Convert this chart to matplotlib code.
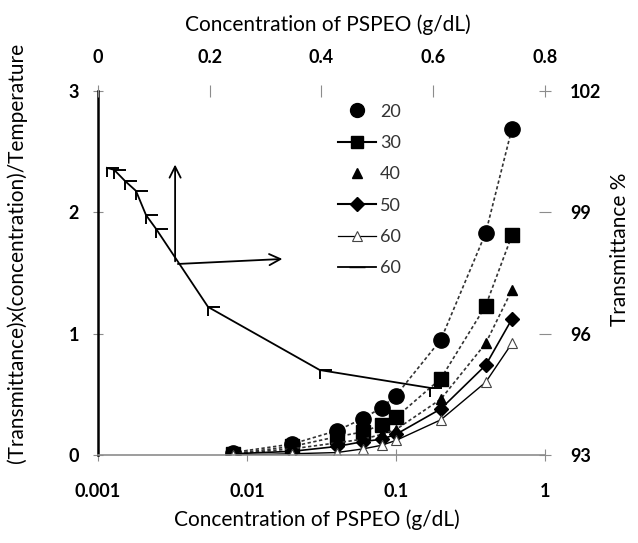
import matplotlib
matplotlib.use('Agg')
import matplotlib.pyplot as plt
from matplotlib.path import Path
from matplotlib.lines import Line2D

plt.rcParams['font.family'] = ['Lato', 'DejaVu Sans']

# bottom/left axes: concentration (log) vs (T)x(c)/Temperature
conc = [0.008, 0.02, 0.04, 0.06, 0.08, 0.1, 0.2, 0.4, 0.6]
t20 = [0.02, 0.09, 0.20, 0.30, 0.39, 0.49, 0.95, 1.83, 2.69]
t30 = [0.01, 0.07, 0.15, 0.19, 0.25, 0.31, 0.63, 1.23, 1.81]
t40 = [0.01, 0.05, 0.10, 0.13, 0.17, 0.21, 0.46, 0.92, 1.36]
t50 = [0.01, 0.03, 0.07, 0.11, 0.13, 0.17, 0.38, 0.74, 1.12]
t60 = [0.00, 0.01, 0.02, 0.05, 0.08, 0.12, 0.29, 0.60, 0.92]

# top/right axes: concentration (linear) vs transmittance % at 60
trans_conc = [0.016, 0.029, 0.048, 0.068, 0.086, 0.104, 0.197, 0.397, 0.594]
trans_pct = [100.10, 100.05, 99.78, 99.53, 98.93, 98.59, 96.66, 95.10, 94.66]

legend_labels = ['20', '30', '40', '50', '60', '60']

gray = '#8c8c8c'
gamma = Path([(0, -1), (0, 0), (1.3, 0)], [Path.MOVETO, Path.LINETO, Path.LINETO])

fig = plt.figure(figsize=(6.38, 5.43), dpi=100)
ax = fig.add_axes([0.1536, 0.1621, 0.7006, 0.6703])
ax.set_xscale('log')
ax.set_xlim(0.001, 1)
ax.set_ylim(0, 3)

ax.plot(conc, t20, ls=(0, (2, 1.5)), color='#333333', lw=1.2, marker='o', ms=11, mfc='k', mec='k')
ax.plot(conc, t30, ls=(0, (2, 1.5)), color='#333333', lw=1.2, marker='s', ms=10, mfc='k', mec='k')
ax.plot(conc, t40, ls=(0, (2, 1.5)), color='#333333', lw=1.2, marker='^', ms=7, mfc='k', mec='k')
ax.plot(conc, t50, ls='-', color='k', lw=1.2, marker='D', ms=7, mfc='k', mec='k')
ax.plot(conc, t60, ls='-', color='k', lw=1.0, marker='^', ms=7, mfc='white', mec='#444444', mew=0.8)

ax.set_xticks([0.001, 0.01, 0.1, 1])
ax.set_xticklabels(['0.001', '0.01', '0.1', '1'])
ax.set_yticks([0, 1, 2, 3])
ax.minorticks_off()
ax.tick_params(axis='x', direction='inout', length=8, color=gray, pad=16, labelsize=13)
ax.tick_params(axis='y', direction='inout', length=7, color=gray, pad=10, labelsize=13)
for lab in ax.get_xticklabels() + ax.get_yticklabels():
    lab.set_fontweight('bold')
ax.spines['left'].set_color('k')
ax.spines['left'].set_linewidth(1.8)
ax.spines['bottom'].set_color(gray)
ax.spines['bottom'].set_linewidth(1.2)
ax.spines['top'].set_visible(False)
ax.spines['right'].set_visible(False)

axT = fig.add_axes(ax.get_position(), frameon=False)
axT.patch.set_alpha(0)
axT.set_xlim(0, 0.8)
axT.set_ylim(93, 102)
axT.xaxis.tick_top()
axT.yaxis.tick_right()
axT.set_xticks([0, 0.2, 0.4, 0.6, 0.8])
axT.set_xticklabels(['0', '0.2', '0.4', '0.6', '0.8'])
axT.set_yticks([93, 96, 99, 102])
axT.tick_params(axis='x', direction='inout', length=8, color=gray, pad=14, labelsize=13)
axT.tick_params(axis='y', direction='inout', length=8, color=gray, pad=14, labelsize=13)
for lab in axT.get_xticklabels() + axT.get_yticklabels():
    lab.set_fontweight('bold')
for side in ['top', 'right']:
    axT.spines[side].set_visible(True)
    axT.spines[side].set_color(gray)
    axT.spines[side].set_linewidth(1.2)
axT.spines['left'].set_visible(False)
axT.spines['bottom'].set_visible(False)

axT.plot(trans_conc, trans_pct, ls='-', color='k', lw=1.3, marker=gamma, ms=17, mfc='none', mec='k', mew=1.4)

# arrows pointing to the two axis sets
axT.annotate('', xy=(0.138, 100.25), xytext=(0.138, 97.72),
             arrowprops=dict(arrowstyle='->', color='k', lw=1.3, mutation_scale=20))
axT.annotate('', xy=(0.335, 97.85), xytext=(0.138, 97.72),
             arrowprops=dict(arrowstyle='->', color='k', lw=1.3, mutation_scale=20))

handles = [
    Line2D([], [], ls='none', marker='o', ms=10, color='k'),
    Line2D([], [], ls='-', lw=1.5, marker='s', ms=8, color='k'),
    Line2D([], [], ls='none', marker='^', ms=7, color='k'),
    Line2D([], [], ls='-', lw=1.5, marker='D', ms=7, color='k'),
    Line2D([], [], ls='-', lw=0.9, marker='^', ms=7, color='k', mfc='white', mec='#444444', mew=0.8),
    Line2D([], [], ls='-', lw=1.3, marker='_', ms=12, color='k'),
]
leg = axT.legend(handles, legend_labels, loc='upper left', bbox_to_anchor=(0.52, 0.985),
                 frameon=False, fontsize=13, handlelength=2.1, handletextpad=0.25,
                 labelspacing=0.85, borderaxespad=0)
for t in leg.get_texts():
    t.set_color('#333333')

fig.text(0.497, 0.042, 'Concentration of PSPEO (g/dL)', ha='center', va='center', fontsize=15)
fig.text(0.514, 0.954, 'Concentration of PSPEO (g/dL)', ha='center', va='center', fontsize=15)
fig.text(0.026, 0.534, '(Transmittance)x(concentration)/Temperature', ha='center', va='center',
         rotation=90, fontsize=15)
fig.text(0.972, 0.54, 'Transmittance %', ha='center', va='center', rotation=90, fontsize=15)

fig.savefig('out.png', dpi=100)
